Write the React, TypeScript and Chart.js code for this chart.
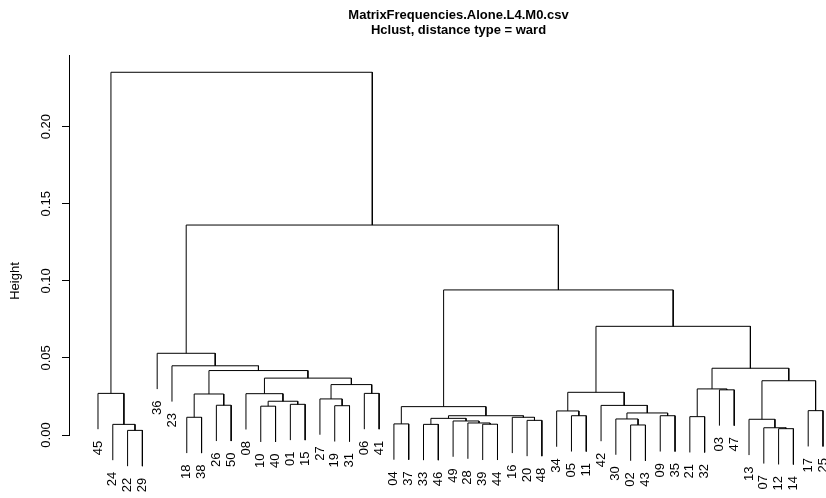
import React, { useEffect, useRef } from 'react';
import { Chart, registerables } from 'chart.js';

Chart.register(...registerables);

const titleLines = ['MatrixFrequencies.Alone.L4.M0.csv', 'Hclust, distance type = ward'];
const yAxisTitle = 'Height';

// leaves in display order
const leafLabels = [
  '45', '24', '22', '29', '36', '23', '18', '38', '26', '50',
  '08', '10', '40', '01', '15', '27', '19', '31', '06', '41',
  '04', '37', '33', '46', '49', '28', '39', '44', '16', '20',
  '48', '34', '05', '11', '42', '30', '02', '43', '09', '35',
  '21', '32', '03', '47', '13', '07', '12', '14', '17', '25',
];

// hclust-style merges: negative = leaf (1-based display position), positive = earlier merge (1-based)
const mergeLeft = [
  -3, -47, -46, -37, -2, -27, -23, -21, -26, -25,
  -30, -45, -36, 7, -7, -29, -41, -33, -39, 14,
  -32, 13, -49, 8, -12, -17, -35, -9, -14, 25,
  -16, -19, 15, -11, -1, 21, -43, 17, 31, 12,
  34, 33, -6, 38, -5, 36, 24, 45, 35,
];
const mergeRight = [
  -4, -48, 2, -38, 1, -28, -24, -22, 6, 9,
  -31, 3, 4, 10, -8, 11, -42, -34, -40, 16,
  18, 19, -50, 20, -13, -18, 22, -10, -15, 29,
  26, -20, 28, 30, 5, 27, -44, 37, 32, 23,
  39, 41, 42, 40, 43, 44, 46, 47, 48,
];
const mergeHeight = [
  0.0030, 0.0041, 0.0047, 0.0065, 0.0069, 0.0070, 0.0069, 0.0072, 0.0078, 0.0091,
  0.0095, 0.0102, 0.0104, 0.0108, 0.0115, 0.0115, 0.0119, 0.0125, 0.0125, 0.0125,
  0.0156, 0.0143, 0.0158, 0.0184, 0.0187, 0.0190, 0.0192, 0.0193, 0.0199, 0.0219,
  0.0234, 0.0270, 0.0266, 0.0268, 0.0270, 0.0277, 0.0293, 0.0299, 0.0327, 0.0352,
  0.0369, 0.0418, 0.0449, 0.0433, 0.0530, 0.0705, 0.0941, 0.1362, 0.2353,
];

const yTicks = [0, 0.05, 0.1, 0.15, 0.2];
const hangFraction = 0.1;

const FONT = '"Liberation Sans", Arial, Helvetica, sans-serif';

function buildTree() {
  const maxH = Math.max(...mergeHeight);
  const minH = Math.min(...mergeHeight);
  const hang = hangFraction * (maxH - minH);
  const nodeX: number[] = [];
  const segments: { x: number; y: number }[][] = [];
  const leafTip: number[] = new Array(leafLabels.length).fill(0);
  for (let i = 0; i < mergeHeight.length; i++) {
    const h = mergeHeight[i];
    const child = (c: number) => {
      if (c < 0) {
        const pos = -c - 1;
        leafTip[pos] = h - hang;
        return { x: pos, y: h - hang };
      }
      return { x: nodeX[c - 1], y: mergeHeight[c - 1] };
    };
    const a = child(mergeLeft[i]);
    const b = child(mergeRight[i]);
    nodeX[i] = (a.x + b.x) / 2;
    segments.push([
      { x: a.x, y: a.y },
      { x: a.x, y: h },
      { x: b.x, y: h },
      { x: b.x, y: b.y },
    ]);
  }
  return { segments, leafTip };
}

export default function App() {
  const ref = useRef<HTMLCanvasElement | null>(null);
  useEffect(() => {
    if (!ref.current) return;
    const { segments, leafTip } = buildTree();
    const labelPlugin = {
      id: 'leafLabels',
      afterDraw(chart: any) {
        const ctx = chart.ctx;
        const xs = chart.scales.x;
        const ys = chart.scales.y;
        ctx.save();
        ctx.fillStyle = '#000';
        ctx.font = `13px ${FONT}`;
        leafLabels.forEach((lab, i) => {
          const px = xs.getPixelForValue(i);
          const py = ys.getPixelForValue(leafTip[i]) + 11.5;
          ctx.save();
          ctx.translate(px, py);
          ctx.rotate(-Math.PI / 2);
          ctx.textAlign = 'right';
          ctx.textBaseline = 'middle';
          ctx.fillText(lab, 0, 0);
          ctx.restore();
        });
        ctx.save();
        ctx.translate(15, 281);
        ctx.rotate(-Math.PI / 2);
        ctx.textAlign = 'center';
        ctx.textBaseline = 'middle';
        ctx.fillText(yAxisTitle, 0, 0);
        ctx.restore();
        ctx.restore();
      },
    };
    const chart = new Chart(ref.current, {
      type: 'scatter',
      data: {
        datasets: segments.map((seg) => ({
          data: seg,
          showLine: true,
          borderColor: '#000',
          borderWidth: 1,
          pointRadius: 0,
          pointHoverRadius: 0,
          fill: false,
          tension: 0,
          clip: false as any,
        })),
      },
      options: {
        animation: false,
        responsive: false,
        events: [],
        layout: { padding: { left: 0, right: 0, top: 0, bottom: 63 } },
        plugins: {
          legend: { display: false },
          tooltip: { enabled: false },
          title: {
            display: true,
            text: titleLines,
            fullSize: false,
            color: '#000',
            font: { family: FONT, size: 13, weight: 'bold', lineHeight: 1.2 },
            padding: { top: 7.5, bottom: 16.3 },
          },
        },
        scales: {
          x: {
            type: 'linear',
            display: false,
            min: -1.96,
            max: 50.69,
          },
          y: {
            type: 'linear',
            min: 0,
            max: 0.2465,
            afterBuildTicks: (scale: any) => {
              scale.ticks = yTicks.map((v) => ({ value: v }));
            },
            afterFit: (scale: any) => {
              scale.width = 69;
            },
            border: { display: true, color: '#000', width: 1 },
            grid: {
              display: true,
              drawOnChartArea: false,
              drawTicks: true,
              tickLength: 7,
              color: '#000',
            },
            ticks: {
              color: '#000',
              font: { family: FONT, size: 13 },
              minRotation: 90,
              maxRotation: 90,
              crossAlign: 'center',
              padding: 3,
              callback: (v: any) => Number(v).toFixed(2),
            },
          },
        },
      },
      plugins: [labelPlugin],
    });
    return () => chart.destroy();
  }, []);
  return (
    <div style={{ position: 'absolute', left: 0, top: 0, width: 826, height: 498, overflow: 'hidden', background: '#fff' }}>
      <canvas ref={ref} width={848} height={498} style={{ display: 'block' }} />
    </div>
  );
}
